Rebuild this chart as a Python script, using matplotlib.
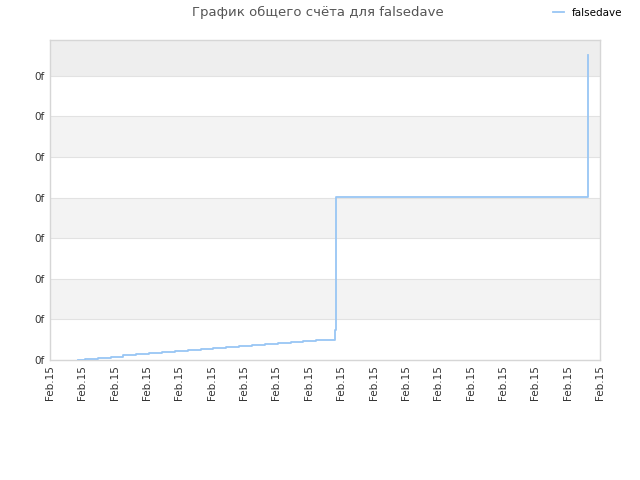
import numpy as np
import matplotlib
matplotlib.use("Agg")
from matplotlib import pyplot as plt

# step times (in tick units) and score values
times = [0.87, 1.08, 1.48, 1.89, 2.26, 2.66, 3.06, 3.46, 3.86, 4.27, 4.67,
         5.04, 5.44, 5.84, 6.24, 6.65, 7.05, 7.45, 7.82, 8.22, 8.62,
         8.81, 8.84, 16.63, 16.63]
scores = [0.0, 0.02, 0.056, 0.081, 0.116, 0.140, 0.165, 0.190, 0.214, 0.239, 0.263,
          0.296, 0.320, 0.345, 0.369, 0.394, 0.419, 0.443, 0.468, 0.485, 0.485,
          0.74, 4.02, 4.02, 7.51]
x_labels = ["Feb.15"] * 18
y_labels = ["0f"] * 8

title = "График общего счёта для falsedave"
player = "falsedave"

plt.rcParams['font.family'] = ['DejaVu Sans']
fig = plt.figure(figsize=(6.4, 4.8), dpi=100)
ax = fig.add_axes([50/640, 1-360/480, 550/640, 320/480])

ymax = 7.88
ax.set_xlim(0, 17)
ax.set_ylim(0, ymax)

# alternating bands
for i in range(8):
    top = min(i + 1, ymax)
    if i == 7:
        col = '#eeeeee'
    elif i % 2 == 1:
        col = '#f3f3f3'
    else:
        col = '#ffffff'
    ax.axhspan(i, top, color=col, zorder=0, lw=0)
for i in range(1, 8):
    ax.axhline(i, color='#e2e2e2', lw=0.8, zorder=1)

ax.step(times, scores, where='post', color='#99c6f4', lw=1.3, zorder=3, label=player)

ax.set_xticks(np.arange(len(x_labels)))
ax.set_xticklabels(x_labels, rotation=90, fontsize=7.5, color='#333333')
ax.set_yticks(np.arange(len(y_labels)))
ax.set_yticklabels(y_labels, fontsize=7.5, color='#333333')
ax.tick_params(length=0, pad=4)
for s in ax.spines.values():
    s.set_color('#d6d6d6')
    s.set_linewidth(1)

fig.text(318/640, 1-12/480, title, ha='center', va='center', fontsize=9.5, color='#555555')
leg = fig.legend(loc='center left', bbox_to_anchor=(548/640, 1-13/480), frameon=False,
                 fontsize=7.5, handlelength=1.0, handletextpad=0.8, borderpad=0)

fig.savefig('out.png', dpi=100)
